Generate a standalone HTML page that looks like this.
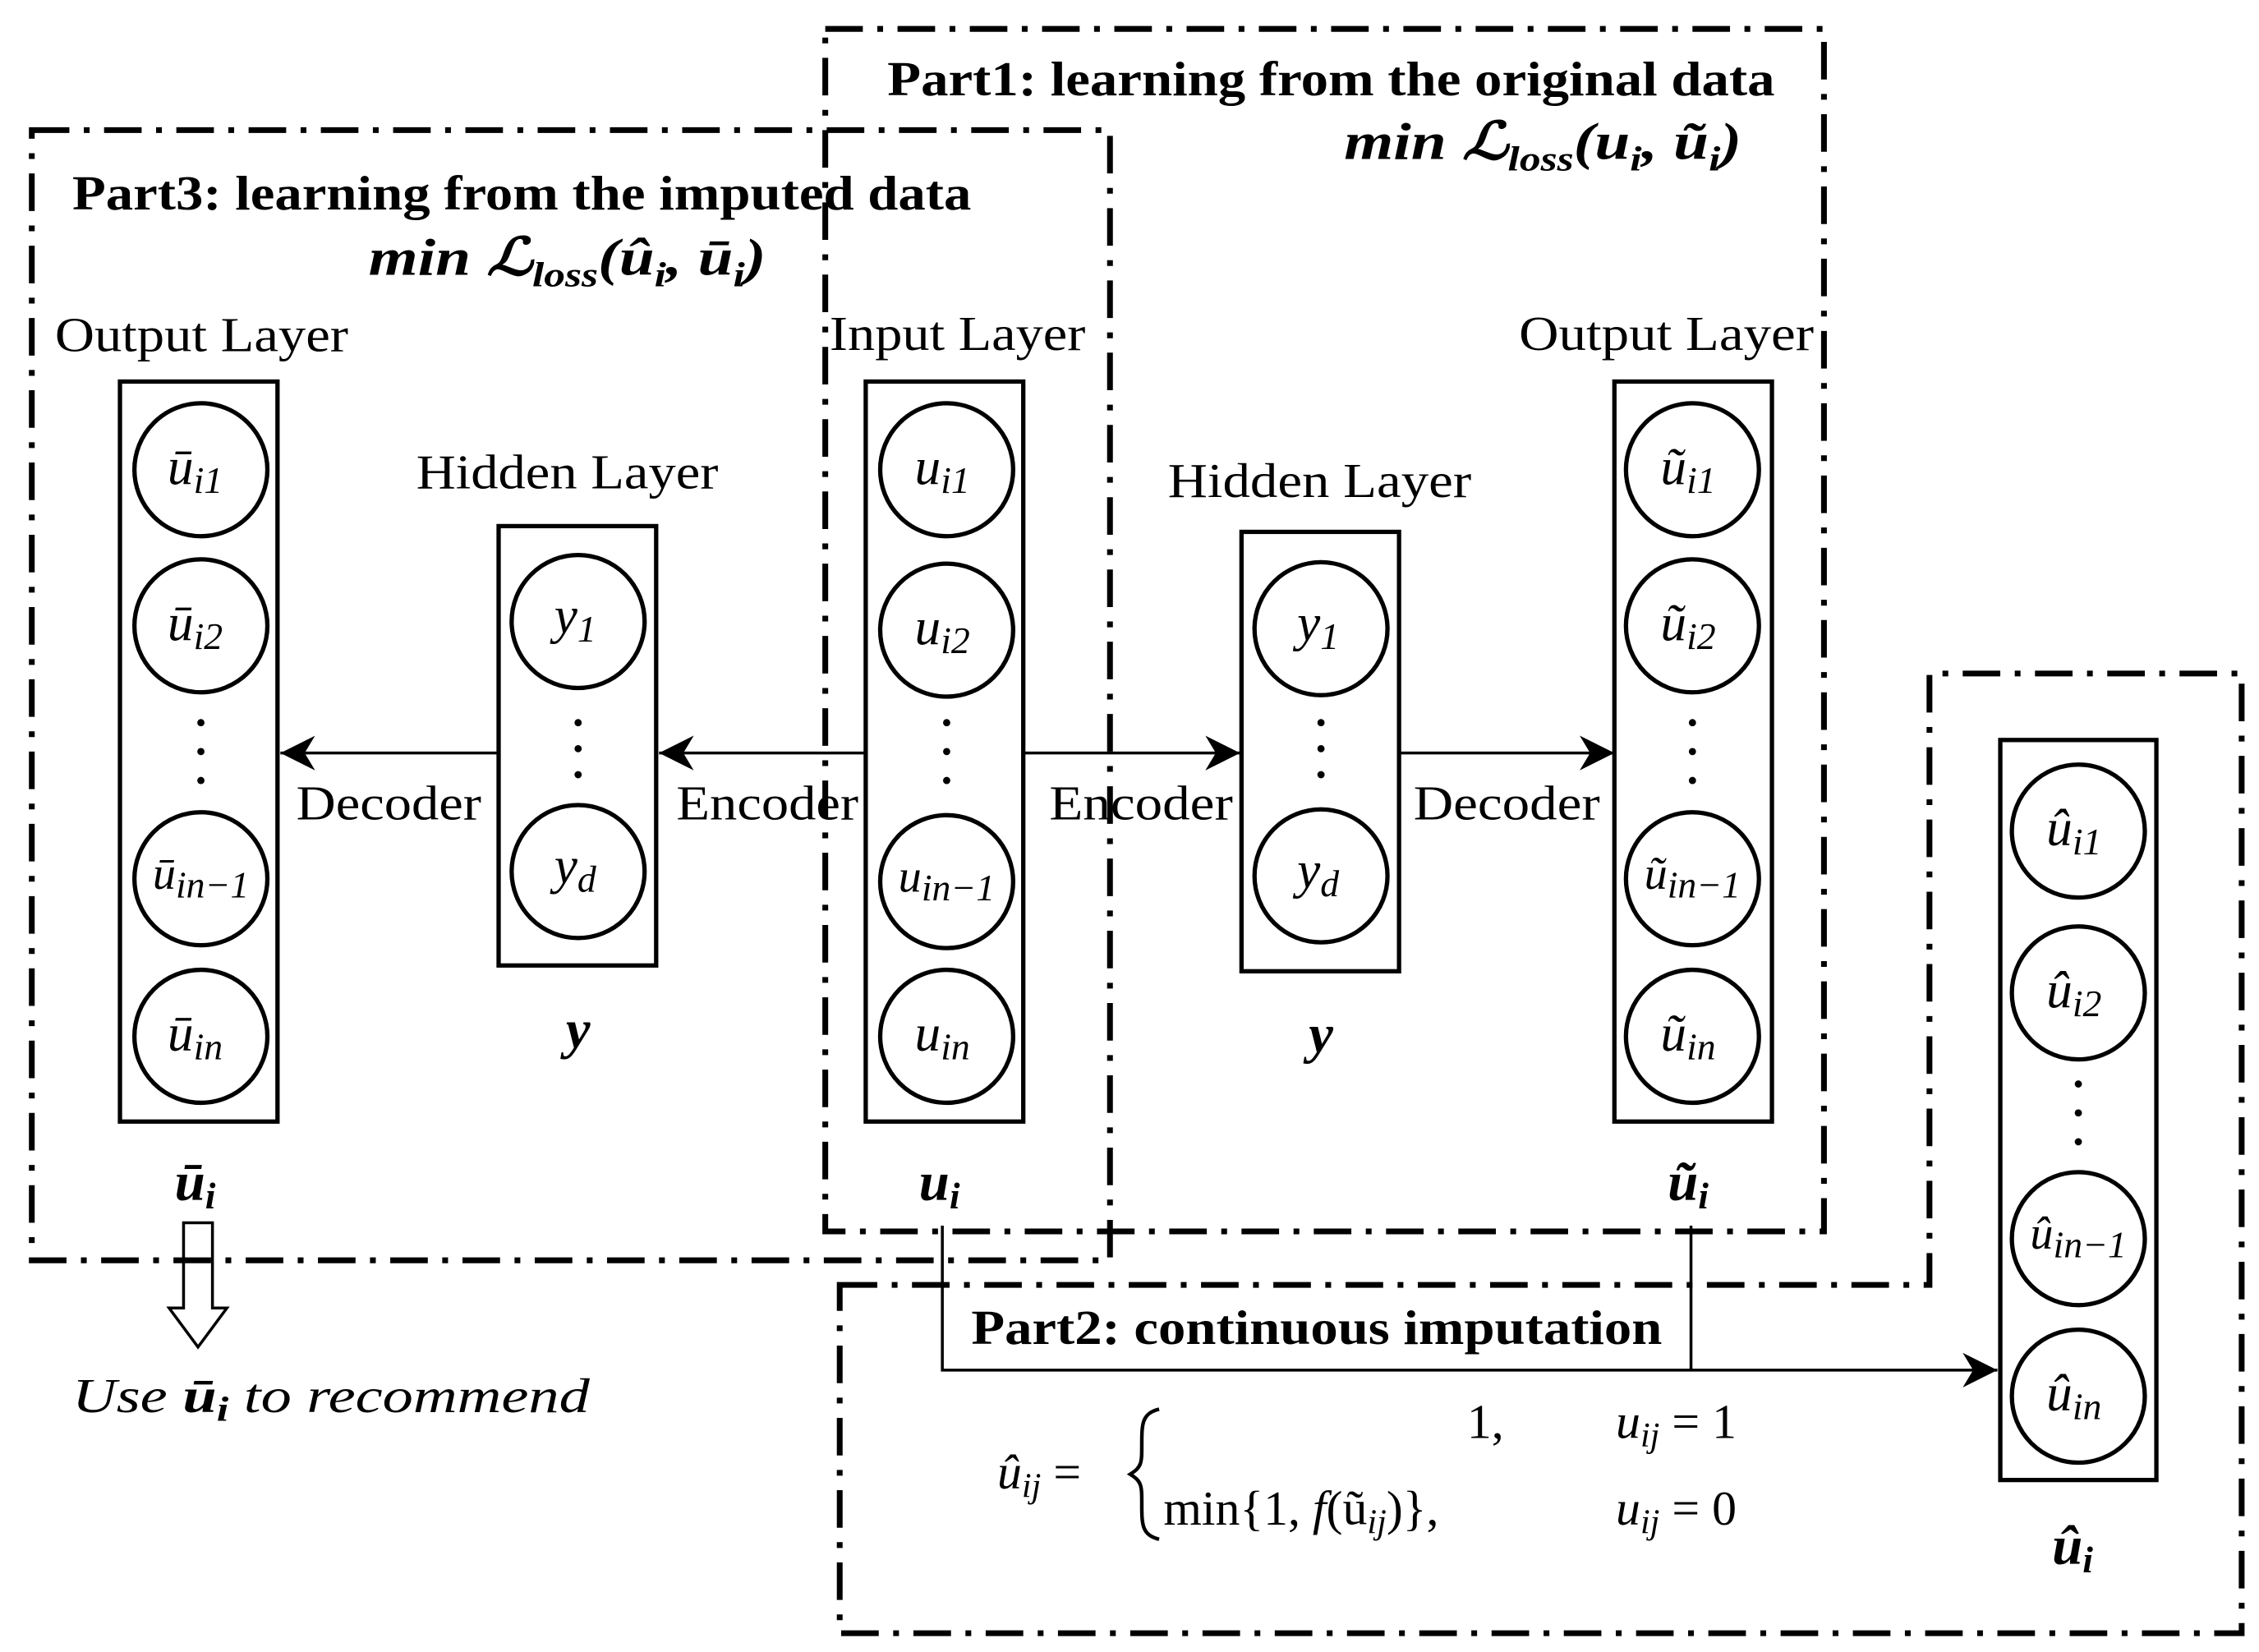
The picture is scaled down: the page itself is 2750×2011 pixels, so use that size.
<!DOCTYPE html>
<html><head><meta charset="utf-8"><style>
html,body{margin:0;padding:0;background:#fff}
svg{display:block}
text{font-family:"Liberation Serif",serif;fill:#000}
.l{font-size:34px}
.m{font-size:36px;font-style:italic}
</style></head><body>
<svg width="2750" height="2011" viewBox="0 0 1563 1143" preserveAspectRatio="none" xmlns="http://www.w3.org/2000/svg">
<defs>
<marker id="h" viewBox="0 0 20 20" markerWidth="24" markerHeight="24" refX="20" refY="10" orient="auto" markerUnits="userSpaceOnUse"><path d="M0,0 L20,10 L0,20 L6,10 z" fill="#000"/></marker></defs>
<g fill="none" stroke="#000" stroke-width="4" stroke-dasharray="26,10,4,10">
<rect x="571" y="20" width="691" height="832"/>
<rect x="22" y="90" width="746" height="782"/>
<path d="M581,889 L1335,889 L1335,466 L1551,466 L1551,1130 L581,1130 Z"/>
</g>
<g fill="none" stroke="#000" stroke-width="3">
<rect x="83" y="264" width="109" height="512"/>
<rect x="345" y="364" width="109" height="304"/>
<rect x="599" y="264" width="109" height="512"/>
<rect x="859" y="368" width="109" height="304"/>
<rect x="1117" y="264" width="109" height="512"/>
<rect x="1384" y="512" width="108" height="512"/>
<circle cx="139" cy="325" r="46"/><circle cx="139" cy="433" r="46"/><circle cx="139" cy="608" r="46"/><circle cx="139" cy="717" r="46"/>
<circle cx="400" cy="430" r="46"/><circle cx="400" cy="603" r="46"/>
<circle cx="655" cy="325" r="46"/><circle cx="655" cy="436" r="46"/><circle cx="655" cy="610" r="46"/><circle cx="655" cy="717" r="46"/>
<circle cx="914" cy="435" r="46"/><circle cx="914" cy="606" r="46"/>
<circle cx="1171" cy="325" r="46"/><circle cx="1171" cy="433" r="46"/><circle cx="1171" cy="608" r="46"/><circle cx="1171" cy="717" r="46"/>
<circle cx="1438" cy="575" r="46"/><circle cx="1438" cy="687" r="46"/><circle cx="1438" cy="857" r="46"/><circle cx="1438" cy="966" r="46"/>
</g>
<g stroke="#000" stroke-width="2" fill="none">
<line x1="599" y1="521" x2="456" y2="521" marker-end="url(#h)"/>
<line x1="345" y1="521" x2="194" y2="521" marker-end="url(#h)"/>
<line x1="708" y1="521" x2="858" y2="521" marker-end="url(#h)"/>
<line x1="968" y1="521" x2="1117" y2="521" marker-end="url(#h)"/>
<path d="M652,848 L652,948 L1382,948" marker-end="url(#h)"/>
<line x1="1170" y1="848" x2="1170" y2="948"/>
<path d="M127,846 L147,846 L147,905 L157,905 L137,932 L117,905 L127,905 Z"/>
<path d="M802,975 C790,978 790,985 790,1000 C790,1012 790,1015 782,1020 C790,1025 790,1028 790,1040 C790,1055 790,1062 802,1065" stroke-width="2.5"/>
</g>
<g fill="#000">
<circle cx="139" cy="500" r="2.5"/><circle cx="139" cy="520" r="2.5"/><circle cx="139" cy="540" r="2.5"/>
<circle cx="400" cy="500" r="2.5"/><circle cx="400" cy="518" r="2.5"/><circle cx="400" cy="536" r="2.5"/>
<circle cx="655" cy="500" r="2.5"/><circle cx="655" cy="520" r="2.5"/><circle cx="655" cy="540" r="2.5"/>
<circle cx="914" cy="500" r="2.5"/><circle cx="914" cy="518" r="2.5"/><circle cx="914" cy="536" r="2.5"/>
<circle cx="1171" cy="500" r="2.5"/><circle cx="1171" cy="520" r="2.5"/><circle cx="1171" cy="540" r="2.5"/>
<circle cx="1438" cy="750" r="2.5"/><circle cx="1438" cy="770" r="2.5"/><circle cx="1438" cy="790" r="2.5"/>
</g>
<text x="614" y="66" font-weight="bold" font-size="34" textLength="614" lengthAdjust="spacingAndGlyphs">Part1: learning from the original data</text>
<text x="930" y="110" font-weight="bold" class="m" textLength="275" lengthAdjust="spacingAndGlyphs">min ℒ<tspan font-size="24" dy="8">loss</tspan><tspan dy="-8">(u</tspan><tspan font-size="24" dy="8">i</tspan><tspan dy="-8">, ũ</tspan><tspan font-size="24" dy="8">i</tspan><tspan dy="-8">)</tspan></text>
<text x="50" y="145" font-weight="bold" font-size="34" textLength="622" lengthAdjust="spacingAndGlyphs">Part3: learning from the imputed data</text>
<text x="255" y="190" font-weight="bold" class="m" textLength="275" lengthAdjust="spacingAndGlyphs">min ℒ<tspan font-size="24" dy="8">loss</tspan><tspan dy="-8">(û</tspan><tspan font-size="24" dy="8">i</tspan><tspan dy="-8">, ū</tspan><tspan font-size="24" dy="8">i</tspan><tspan dy="-8">)</tspan></text>
<text x="672" y="930" font-weight="bold" font-size="34" textLength="478" lengthAdjust="spacingAndGlyphs">Part2: continuous imputation</text>
<text x="38" y="243" class="l" textLength="203" lengthAdjust="spacingAndGlyphs">Output Layer</text>
<text x="288" y="338" class="l" textLength="209" lengthAdjust="spacingAndGlyphs">Hidden Layer</text>
<text x="574" y="242" class="l" textLength="177" lengthAdjust="spacingAndGlyphs">Input Layer</text>
<text x="808" y="344" class="l" textLength="210" lengthAdjust="spacingAndGlyphs">Hidden Layer</text>
<text x="1051" y="242" class="l" textLength="204" lengthAdjust="spacingAndGlyphs">Output Layer</text>
<text x="205" y="567" class="l" textLength="128" lengthAdjust="spacingAndGlyphs">Decoder</text>
<text x="468" y="567" class="l" textLength="126" lengthAdjust="spacingAndGlyphs">Encoder</text>
<text x="726" y="567" class="l" textLength="127" lengthAdjust="spacingAndGlyphs">Encoder</text>
<text x="978" y="567" class="l" textLength="129" lengthAdjust="spacingAndGlyphs">Decoder</text>
<g font-style="italic" font-size="36" text-anchor="middle">
<text x="135" y="335">ū<tspan font-size="26" dy="6">i1</tspan></text>
<text x="135" y="443">ū<tspan font-size="26" dy="6">i2</tspan></text>
<text x="139" y="615" font-size="32">ū<tspan font-size="26" dy="6">in−1</tspan></text>
<text x="135" y="727">ū<tspan font-size="26" dy="6">in</tspan></text>
<text x="398" y="438">y<tspan font-size="26" dy="6">1</tspan></text>
<text x="398" y="611">y<tspan font-size="26" dy="6">d</tspan></text>
<text x="652" y="335">u<tspan font-size="26" dy="6">i1</tspan></text>
<text x="652" y="446">u<tspan font-size="26" dy="6">i2</tspan></text>
<text x="655" y="617" font-size="32">u<tspan font-size="26" dy="6">in−1</tspan></text>
<text x="652" y="727">u<tspan font-size="26" dy="6">in</tspan></text>
<text x="912" y="443">y<tspan font-size="26" dy="6">1</tspan></text>
<text x="912" y="614">y<tspan font-size="26" dy="6">d</tspan></text>
<text x="1168" y="335">ũ<tspan font-size="26" dy="6">i1</tspan></text>
<text x="1168" y="443">ũ<tspan font-size="26" dy="6">i2</tspan></text>
<text x="1171" y="615" font-size="32">ũ<tspan font-size="26" dy="6">in−1</tspan></text>
<text x="1168" y="727">ũ<tspan font-size="26" dy="6">in</tspan></text>
<text x="1435" y="585">û<tspan font-size="26" dy="6">i1</tspan></text>
<text x="1435" y="697">û<tspan font-size="26" dy="6">i2</tspan></text>
<text x="1438" y="864" font-size="32">û<tspan font-size="26" dy="6">in−1</tspan></text>
<text x="1435" y="976">û<tspan font-size="26" dy="6">in</tspan></text>
</g>
<g font-style="italic" font-weight="bold" font-size="38" text-anchor="middle">
<text x="135" y="830">ū<tspan font-size="26" dy="6">i</tspan></text>
<text x="400" y="725">y</text>
<text x="650" y="830">u<tspan font-size="26" dy="6">i</tspan></text>
<text x="914" y="728">y</text>
<text x="1168" y="830">ũ<tspan font-size="26" dy="6">i</tspan></text>
<text x="1434" y="1082">û<tspan font-size="26" dy="6">i</tspan></text>
</g>
<text x="50" y="977" font-style="italic" font-size="34" textLength="358" lengthAdjust="spacingAndGlyphs">Use <tspan font-weight="bold">ū</tspan><tspan font-weight="bold" font-size="24" dy="6">i</tspan><tspan dy="-6"> to recommend</tspan></text>
<g font-size="34">
<text x="690" y="1030" font-style="italic">û<tspan font-size="24" dy="6">ij</tspan><tspan dy="-6" font-style="normal"> =</tspan></text>
<text x="1015" y="995">1,</text>
<text x="805" y="1055">min{1, <tspan font-style="italic">f</tspan>(ũ<tspan font-size="24" dy="6" font-style="italic">ij</tspan><tspan dy="-6">)},</tspan></text>
<text x="1118" y="995" font-style="italic">u<tspan font-size="24" dy="6">ij</tspan><tspan dy="-6" font-style="normal"> = 1</tspan></text>
<text x="1118" y="1055" font-style="italic">u<tspan font-size="24" dy="6">ij</tspan><tspan dy="-6" font-style="normal"> = 0</tspan></text>
</g>
</svg>
</body></html>
